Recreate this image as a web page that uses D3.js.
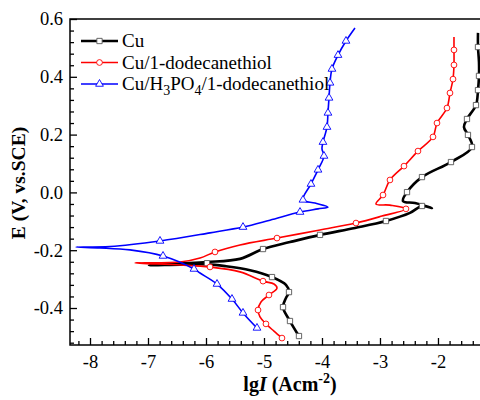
<!DOCTYPE html>
<html>
<head>
<meta charset="utf-8">
<script src="https://cdn.jsdelivr.net/npm/d3@7"></script>
<style>
  body { margin: 0; background: #fff; }
  svg text { font-family: "Liberation Serif", "Times New Roman", "DejaVu Serif", serif; }
</style>
</head>
<body>
<script>
// series: [lgI, E] pairs, bottom (cathodic) -> Ecorr -> top (anodic)
var cuLine = [[-4.397,-0.497],[-4.552,-0.445],[-4.672,-0.397],[-4.621,-0.365],[-4.569,-0.345],[-4.621,-0.320],
  [-4.862,-0.293],[-5.241,-0.269],[-5.672,-0.255],[-5.983,-0.249],[-6.448,-0.250],[-6.983,-0.252],
  [-6.448,-0.246],[-5.983,-0.241],[-5.414,-0.230],[-5.017,-0.196],[-4.552,-0.172],[-4.034,-0.147],
  [-3.431,-0.123],[-2.897,-0.099],[-2.483,-0.071],[-2.276,-0.047],[-2.103,-0.054],[-2.397,-0.037],
  [-2.603,-0.030],[-2.534,0.001],[-2.276,0.053],[-1.776,0.105],[-1.414,0.157],[-1.483,0.199],
  [-1.552,0.226],[-1.500,0.254],[-1.345,0.302],[-1.310,0.354],[-1.293,0.403],[-1.293,0.451],
  [-1.310,0.503],[-1.310,0.552]];
var cuMarks = [[-4.397,-0.497],[-4.552,-0.445],[-4.672,-0.397],[-4.569,-0.345],[-4.862,-0.293],
  [-5.983,-0.245],[-5.017,-0.196],[-4.034,-0.147],[-2.897,-0.099],[-2.276,-0.047],[-2.534,0.001],
  [-2.276,0.053],[-1.776,0.105],[-1.414,0.157],[-1.483,0.199],[-1.500,0.254],[-1.345,0.302],
  [-1.310,0.354],[-1.293,0.403],[-1.310,0.503]];

var thiolLine = [[-4.690,-0.504],[-4.828,-0.480],[-4.966,-0.455],[-5.069,-0.431],[-5.103,-0.407],
  [-5.052,-0.379],[-4.914,-0.355],[-4.776,-0.331],[-4.828,-0.317],[-5.017,-0.307],[-5.414,-0.275],
  [-5.931,-0.258],[-6.448,-0.251],[-7.224,-0.244],[-6.448,-0.241],[-6.103,-0.227],[-5.845,-0.206],
  [-5.414,-0.182],[-4.776,-0.158],[-4.034,-0.130],[-3.414,-0.106],[-2.966,-0.082],[-2.552,-0.057],
  [-2.828,-0.044],[-3.069,-0.040],[-2.948,-0.009],[-2.828,0.043],[-2.586,0.091],[-2.345,0.143],
  [-2.086,0.192],[-2.017,0.240],[-1.845,0.292],[-1.793,0.344],[-1.741,0.392],[-1.724,0.441],
  [-1.724,0.493],[-1.724,0.538]];
var thiolMarks = [[-4.690,-0.504],[-4.966,-0.455],[-5.103,-0.407],[-4.914,-0.355],[-5.017,-0.307],
  [-5.931,-0.258],[-5.845,-0.206],[-4.776,-0.158],[-3.414,-0.106],[-2.552,-0.057],[-2.948,-0.009],
  [-2.828,0.043],[-2.586,0.091],[-2.345,0.143],[-2.086,0.192],[-2.017,0.240],[-1.845,0.292],
  [-1.793,0.344],[-1.741,0.392],[-1.724,0.441],[-1.724,0.493]];

var phosLine = [[-5.121,-0.469],[-5.362,-0.417],[-5.552,-0.369],[-5.810,-0.317],[-6.103,-0.279],
  [-6.207,-0.265],[-6.741,-0.220],[-7.310,-0.199],[-7.828,-0.192],[-8.241,-0.189],[-7.655,-0.187],
  [-6.793,-0.168],[-5.931,-0.140],[-5.362,-0.120],[-4.897,-0.096],[-4.379,-0.068],[-4.069,-0.057],
  [-3.897,-0.051],[-4.121,-0.037],[-4.328,-0.026],[-4.190,0.029],[-4.069,0.078],[-3.966,0.126],
  [-4.000,0.150],[-3.983,0.174],[-3.914,0.226],[-3.897,0.275],[-3.879,0.327],[-3.862,0.379],
  [-3.828,0.427],[-3.724,0.475],[-3.586,0.524],[-3.431,0.569]];
var phosMarks = [[-5.121,-0.469],[-5.362,-0.417],[-5.552,-0.369],[-5.810,-0.317],[-6.207,-0.265],
  [-6.741,-0.220],[-6.793,-0.168],[-5.362,-0.120],[-4.379,-0.068],[-4.328,-0.026],[-4.190,0.029],
  [-4.069,0.078],[-3.966,0.126],[-3.983,0.174],[-3.914,0.226],[-3.897,0.275],[-3.879,0.327],
  [-3.862,0.379],[-3.828,0.427],[-3.724,0.475],[-3.586,0.524]];

var xTicks = [-8, -7, -6, -5, -4, -3, -2];
var yTicks = [-0.4, -0.2, 0.0, 0.2, 0.4, 0.6];

var serif = "'Liberation Serif', 'Times New Roman', 'DejaVu Serif', serif";

//setting dimensions
var margin = {top: 19, left: 70},
    width = 420, height = 326;

var svg = d3.select("body").append("svg")
    .attr("width", 480)
    .attr("height", 400)
    .style("font-family", serif);

var x = d3.scaleLinear().domain([-8.345, -1.103]).range([0, width]);
var y = d3.scaleLinear().domain([-0.528, 0.6]).range([height, 0]);

var g = svg.append("g")
    .attr("transform", "translate(" + margin.left + "," + margin.top + ")");

g.append("clipPath").attr("id", "clip")
  .append("rect").attr("width", width).attr("height", height);

// frame
g.append("rect")
    .attr("width", width).attr("height", height)
    .attr("fill", "none").attr("stroke", "#000").attr("stroke-width", 1.5);

// minor ticks
var xMinor = d3.range(-8.2, -1.1, 0.2).filter(function(v) { return Math.abs(v - Math.round(v)) > 0.01; });
var yMinor = d3.range(-0.52, 0.6, 0.04).filter(function(v) { return Math.abs(v * 5 - Math.round(v * 5)) > 0.01; });

g.append("g")
    .attr("transform", "translate(0," + height + ")")
    .call(d3.axisBottom(x).tickValues(xMinor).tickSize(-4).tickFormat(""))
    .call(function(a) { a.select(".domain").remove(); });
g.append("g")
    .call(d3.axisLeft(y).tickValues(yMinor).tickSize(-4).tickFormat(""))
    .call(function(a) { a.select(".domain").remove(); });

// major ticks
var xAxis = g.append("g")
    .attr("transform", "translate(0," + height + ")")
    .call(d3.axisBottom(x).tickValues(xTicks).tickSize(-7).tickPadding(10).tickFormat(d3.format("d")));
xAxis.select(".domain").remove();
var yAxis = g.append("g")
    .call(d3.axisLeft(y).tickValues(yTicks).tickSize(-7).tickPadding(7).tickFormat(d3.format(".1f")));
yAxis.select(".domain").remove();

g.selectAll("g").attr("font-family", null);
g.selectAll(".tick line").attr("stroke-width", 1.3);
g.selectAll(".tick text")
    .style("font-family", serif)
    .attr("font-size", 18.5)
    .attr("fill", "#000")
    .text(function(d) { return d3.select(this).text().replace("−", "-"); });

var line = d3.line()
    .x(function(d) { return x(d[0]); })
    .y(function(d) { return y(d[1]); })
    .curve(d3.curveCatmullRom.alpha(0.5));

var series = [
  {name: "Cu", line: cuLine, marks: cuMarks, color: "#000", width: 2.6, mark: "square", mcol: "#555"},
  {name: "Cu/1-dodecanethiol", line: thiolLine, marks: thiolMarks, color: "#f00", width: 1.6, mark: "circle", mcol: "#f00"},
  {name: "phos", line: phosLine, marks: phosMarks, color: "#00f", width: 1.6, mark: "triangle", mcol: "#00f"}
];

var plot = g.append("g").attr("clip-path", "url(#clip)");

function symbolFor(s) {
  if (s.mark == "square") return d3.symbol().type(d3.symbolSquare).size(28);
  if (s.mark == "circle") return d3.symbol().type(d3.symbolCircle).size(26);
  return d3.symbol().type(d3.symbolTriangle).size(26);
}

series.forEach(function(s) {
  plot.append("path")
      .datum(s.line)
      .attr("d", line)
      .attr("fill", "none")
      .attr("stroke", s.color)
      .attr("stroke-width", s.width)
      .attr("stroke-linejoin", "round");
  plot.selectAll(null)
      .data(s.marks)
      .enter().append("path")
      .attr("d", symbolFor(s))
      .attr("transform", function(d) { return "translate(" + x(d[0]) + "," + y(d[1]) + ")"; })
      .attr("fill", "#fff")
      .attr("stroke", s.mcol)
      .attr("stroke-width", 0.9);
});

// legend
var legend = g.append("g").attr("transform", "translate(11,22)");
series.forEach(function(s, i) {
  var row = legend.append("g").attr("transform", "translate(0," + (i * 21.5) + ")");
  row.append("line").attr("x1", 0).attr("x2", 37)
      .attr("stroke", s.color).attr("stroke-width", s.width);
  row.append("path").attr("d", symbolFor(s)).attr("transform", "translate(18.5,0)")
      .attr("fill", "#fff").attr("stroke", s.mcol).attr("stroke-width", 0.9);
  var t = row.append("text").attr("x", 41).attr("y", 6)
      .style("font-family", serif)
      .attr("font-size", 19).attr("fill", "#000");
  if (s.name == "phos") {
    t.append("tspan").text("Cu/H");
    t.append("tspan").attr("dy", 4.5).attr("font-size", 14).text("3");
    t.append("tspan").attr("dy", -4.5).text("PO");
    t.append("tspan").attr("dy", 4.5).attr("font-size", 14).text("4");
    t.append("tspan").attr("dy", -4.5).text("/1-dodecanethiol");
  } else {
    t.text(s.name);
  }
});

// axis labels
svg.append("text")
    .attr("transform", "translate(25," + 183 + ") rotate(-90)")
    .attr("text-anchor", "middle")
    .style("font-family", serif)
    .attr("font-size", 19.5).attr("font-weight", "bold")
    .text("E (V, vs.SCE)");

var xl = svg.append("text")
    .attr("x", 290).attr("y", 391)
    .attr("text-anchor", "middle")
    .style("font-family", serif)
    .attr("font-size", 20).attr("font-weight", "bold");
xl.append("tspan").text("lg");
xl.append("tspan").attr("font-style", "italic").text("I");
xl.append("tspan").text(" (Acm");
xl.append("tspan").attr("dy", -8).attr("font-size", 14).text("-2");
xl.append("tspan").attr("dy", 8).text(")");
</script>
</body>
</html>
